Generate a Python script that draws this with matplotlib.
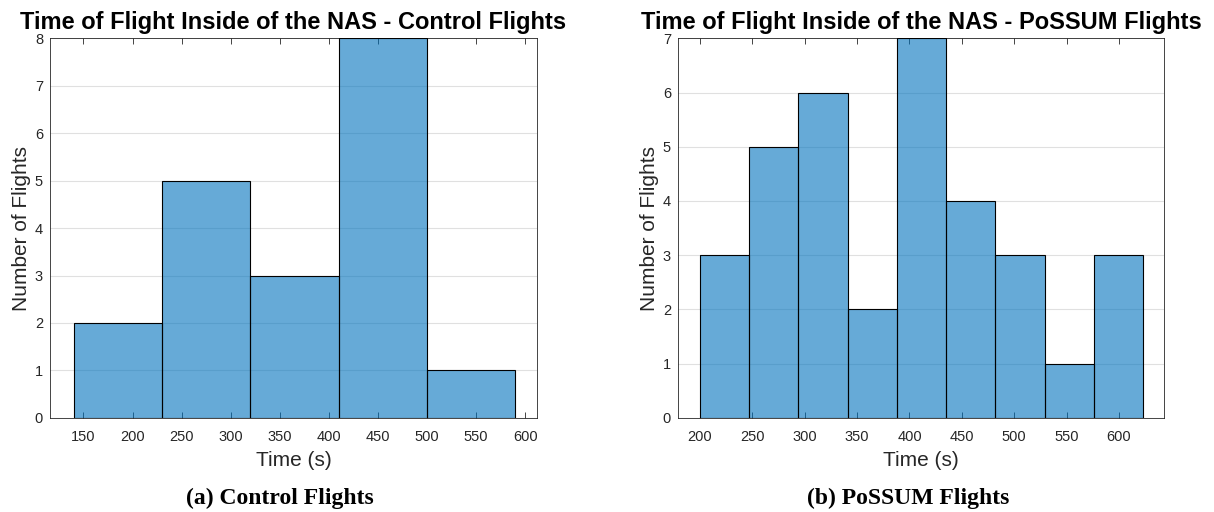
import matplotlib.pyplot as plt
import numpy as np

# control flights: bin edges (s) and counts
ctrl_edges = [140, 230, 320, 410, 500, 590]
ctrl_counts = [2, 5, 3, 8, 1]
# possum flights
pos_edges = [200, 247, 294, 341, 388, 435, 482, 529, 576, 623]
pos_counts = [3, 5, 6, 2, 7, 4, 3, 1, 3]

plt.rcParams['font.family'] = ['Liberation Sans', 'DejaVu Sans']
txt = '#262626'

fig = plt.figure(figsize=(12.14, 5.12), dpi=100)
ax1 = fig.add_axes([0.0412, 0.184, 0.4012, 0.741])
ax2 = fig.add_axes([0.5585, 0.184, 0.4003, 0.741])

def draw(ax, edges, counts, title, xlim, xticks, ymax):
    ax.hist(edges[:-1], bins=edges, weights=counts, color='#0072BD', alpha=0.6,
            edgecolor='none', zorder=2)
    ax.hist(edges[:-1], bins=edges, weights=counts, histtype='bar', facecolor='none',
            edgecolor='black', linewidth=0.8, zorder=3)
    ax.set_xlim(xlim)
    ax.set_ylim(0, ymax)
    ax.set_xticks(xticks)
    ax.set_yticks(range(ymax + 1))
    ax.yaxis.grid(True, color='#000000', alpha=0.12, linewidth=0.8, zorder=4)
    ax.tick_params(direction='in', top=True, right=True, labelsize=10.5, colors=txt,
                   length=4, width=0.6, pad=9)
    ax.tick_params(axis='y', length=0, pad=5)
    for s in ax.spines.values():
        s.set_color(txt)
        s.set_linewidth(0.6)
    ax.set_xlabel('Time (s)', fontsize=15, color=txt, labelpad=5)
    ax.set_ylabel('Number of Flights', fontsize=15, color=txt, labelpad=3)
    ax.set_title(title, fontsize=17, fontweight='bold', pad=7)

draw(ax1, ctrl_edges, ctrl_counts, 'Time of Flight Inside of the NAS - Control Flights',
     (116, 612), range(150, 601, 50), 8)
draw(ax2, pos_edges, pos_counts, 'Time of Flight Inside of the NAS - PoSSUM Flights',
     (179, 643), range(200, 601, 50), 7)

fig.text(0.2306, 0.027, '(a) Control Flights', ha='center', va='center', fontsize=17,
         fontweight='bold', family=['Liberation Serif', 'DejaVu Serif'])
fig.text(0.748, 0.027, '(b) PoSSUM Flights', ha='center', va='center', fontsize=17,
         fontweight='bold', family=['Liberation Serif', 'DejaVu Serif'])

plt.savefig('out.png', dpi=100)
